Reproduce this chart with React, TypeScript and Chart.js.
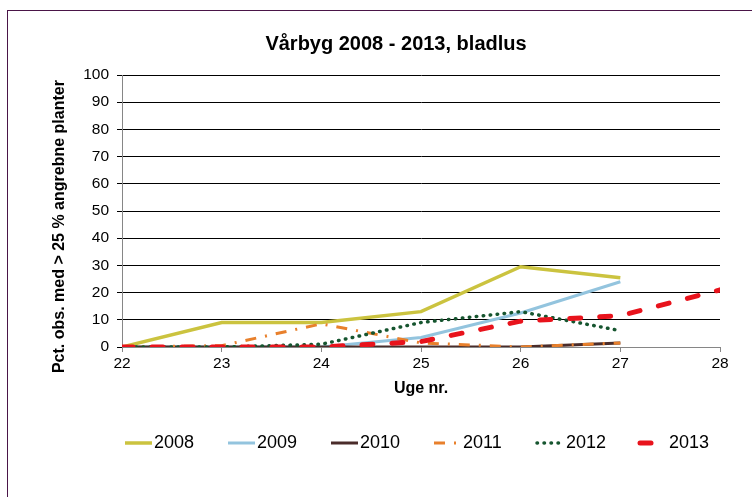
import React, { useEffect, useRef } from "react";
import { Chart, registerables } from "chart.js";

Chart.register(...registerables);

const TITLE = "Vårbyg 2008 - 2013, bladlus";
const Y_TITLE = "Pct. obs. med > 25 % angrebne planter";
const X_TITLE = "Uge nr.";

const WEEKS = [22, 23, 24, 25, 26, 27];
const WEEKS_2013 = [22, 23, 24, 25, 26, 27, 28];

const V2008 = [0, 9, 9, 13, 29.5, 25.5];
const V2009 = [0, 0, 0, 3.5, 12.5, 24];
const V2010 = [0, 0, 0, 0, 0, 1.5];
const V2011 = [0, 0.5, 8.5, 1.5, 0, 1.5];
const V2012 = [0, 0, 1, 9, 13, 6];
const V2013 = [0, 0, 0, 2, 9.5, 11.5, 21];

const SERIES_LABELS = ["2008", "2009", "2010", "2011", "2012", "2013"];

const FONT = "Arial, 'Liberation Sans', sans-serif";

const toPoints = (xs: number[], ys: number[]) => xs.map((x, i) => ({ x, y: ys[i] }));

const customLegend = {
  id: "customLegend",
  afterDraw(chart: any) {
    const { ctx, chartArea } = chart;
    const y = 443;
    const pitch = 103;
    ctx.save();
    chart.data.datasets.forEach((ds: any, i: number) => {
      const x0 = chartArea.left + 3 + i * pitch;
      ctx.beginPath();
      ctx.setLineDash(ds.borderDash || []);
      ctx.lineWidth = ds.borderWidth;
      ctx.strokeStyle = ds.borderColor;
      ctx.lineCap = ds.borderCapStyle || "butt";
      ctx.moveTo(x0, y);
      ctx.lineTo(x0 + 27, y);
      ctx.stroke();
      ctx.setLineDash([]);
      ctx.fillStyle = "#000";
      ctx.font = `18px ${FONT}`;
      ctx.textBaseline = "middle";
      ctx.textAlign = "left";
      ctx.fillText(ds.label, x0 + 29, y);
    });
    ctx.restore();
  },
};

export default function App() {
  const ref = useRef<HTMLCanvasElement>(null);
  useEffect(() => {
    if (!ref.current) return;
    const chart = new Chart(ref.current, {
      type: "line",
      data: {
        datasets: [
          {
            label: SERIES_LABELS[0],
            data: toPoints(WEEKS, V2008),
            borderColor: "#CBC33F",
            borderWidth: 3.5,
            order: 5,
          },
          {
            label: SERIES_LABELS[1],
            data: toPoints(WEEKS, V2009),
            borderColor: "#93C4DE",
            borderWidth: 3,
            order: 4,
          },
          {
            label: SERIES_LABELS[2],
            data: toPoints(WEEKS, V2010),
            borderColor: "#4A2C2A",
            borderWidth: 3,
            order: 3,
          },
          {
            label: SERIES_LABELS[3],
            data: toPoints(WEEKS, V2011),
            borderColor: "#E8802C",
            borderWidth: 3,
            borderDash: [11, 9, 2, 9],
            order: 2,
          },
          {
            label: SERIES_LABELS[4],
            data: toPoints(WEEKS, V2012),
            borderColor: "#16552F",
            borderWidth: 3.5,
            borderDash: [0.5, 6.5],
            borderCapStyle: "round",
            order: 1,
          },
          {
            label: SERIES_LABELS[5],
            data: toPoints(WEEKS_2013, V2013),
            borderColor: "#E8131C",
            borderWidth: 5,
            borderDash: [11, 19],
            borderCapStyle: "round",
            order: 0,
          },
        ] as any,
      },
      options: {
        responsive: false,
        animation: false,
        devicePixelRatio: 1,
        elements: { point: { radius: 0 }, line: { tension: 0 } },
        layout: { padding: { left: 72, right: 72, top: 0, bottom: 94 } },
        plugins: {
          legend: { display: false },
          tooltip: { enabled: false },
          title: {
            display: true,
            text: TITLE,
            color: "#000",
            font: { family: FONT, size: 20, weight: "bold" },
            padding: { top: 32, bottom: 19 },
          },
        },
        scales: {
          x: {
            type: "linear",
            min: 22,
            max: 28,
            afterFit: (s: any) => {
              s.height = 56;
            },
            ticks: {
              stepSize: 1,
              color: "#000",
              padding: 2,
              font: { family: FONT, size: 15.5 },
              maxRotation: 0,
            },
            grid: {
              drawOnChartArea: false,
              drawTicks: true,
              tickLength: 5,
              color: "#868686",
            },
            border: { color: "#868686", width: 1 },
            title: {
              display: true,
              text: X_TITLE,
              color: "#000",
              font: { family: FONT, size: 16, weight: "bold" },
              padding: { top: 0, bottom: 4.4 },
            },
          },
          y: {
            min: 0,
            max: 100,
            afterFit: (s: any) => {
              s.width = 50;
            },
            ticks: {
              stepSize: 10,
              color: "#000",
              padding: 8,
              font: { family: FONT, size: 15.5 },
            },
            grid: {
              color: "#000",
              tickColor: "#000",
              tickLength: 5,
              lineWidth: 1,
            },
            border: { color: "#868686", width: 1 },
            title: {
              display: true,
              text: Y_TITLE + "       ",
              color: "#000",
              font: { family: FONT, size: 16, weight: "bold" },
              padding: { top: -22, bottom: 0 },
            },
          },
        },
      } as any,
      plugins: [customLegend],
    });
    return () => chart.destroy();
  }, []);

  return (
    <div
      style={{
        position: "fixed",
        left: 0,
        top: 0,
        width: 752,
        height: 497,
        overflow: "hidden",
        background: "#fff",
      }}
    >
      <div
        style={{
          position: "absolute",
          left: 7,
          top: 10,
          width: 800,
          height: 520,
          border: "1.5px solid #4A1548",
          boxSizing: "border-box",
        }}
      />
      <canvas
        ref={ref}
        width={792}
        height={497}
        style={{ position: "absolute", left: 0, top: 0, width: 792, height: 497 }}
      />
    </div>
  );
}
